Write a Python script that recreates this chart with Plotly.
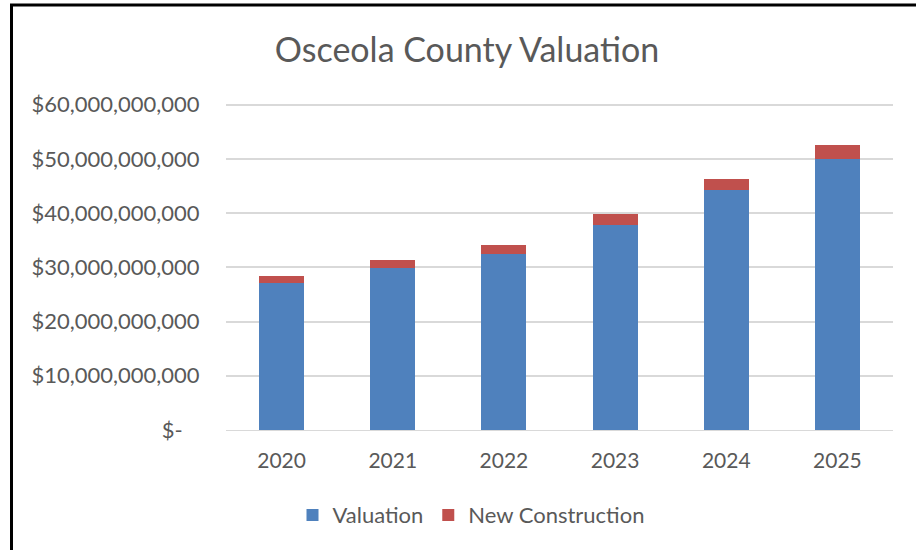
import plotly.graph_objects as go

years = ["2020", "2021", "2022", "2023", "2024", "2025"]
valuation = [27.1e9, 29.8e9, 32.4e9, 37.8e9, 44.2e9, 49.95e9]
new_construction = [1.35e9, 1.6e9, 1.65e9, 1.95e9, 2.15e9, 2.55e9]
tick_vals = [0, 10e9, 20e9, 30e9, 40e9, 50e9, 60e9]
tick_text = ["$-\u00a0\u00a0\u00a0", "$10,000,000,000", "$20,000,000,000", "$30,000,000,000",
             "$40,000,000,000", "$50,000,000,000", "$60,000,000,000"]

FONT = "Lato"
TXT = "#595959"

fig = go.Figure()
fig.add_trace(go.Bar(x=years, y=valuation, name="Valuation",
                     marker=dict(color="#4F81BD", line=dict(width=0))))
fig.add_trace(go.Bar(x=years, y=new_construction, name="New Construction",
                     marker=dict(color="#C0504D", line=dict(width=0))))

W, H = 916, 550
L, R, T, B = 226, 23, 103.4, 120
pw, ph = W - L - R, H - T - B

def px(x):
    return (x - L) / pw

def py(y):
    return (H - B - y) / ph

fig.update_layout(
    width=W, height=H,
    margin=dict(l=L, r=R, t=T, b=B, autoexpand=False),
    barmode="stack",
    bargap=0.595,
    paper_bgcolor="white",
    plot_bgcolor="white",
    font=dict(family=FONT, color=TXT, size=22),
    title=dict(text="Osceola County Valuation", x=467 / W, xanchor="center",
               y=1 - 50 / H, yanchor="middle",
               font=dict(family=FONT, size=34, color=TXT)),
    xaxis=dict(showgrid=False, showline=True, linecolor="#d9d9d9", linewidth=1,
               ticks="outside", ticklen=12, tickcolor="rgba(0,0,0,0)",
               tickangle=0, tickfont=dict(size=21, color=TXT)),
    yaxis=dict(range=[0, 60.3e9], tickvals=tick_vals, ticktext=tick_text,
               showgrid=True, gridcolor="#d9d9d9", gridwidth=2, zeroline=False,
               showline=False, ticks="outside", ticklen=21, tickcolor="rgba(0,0,0,0)",
               tickfont=dict(size=22, color=TXT)),
    legend=dict(orientation="h", x=px(471), xanchor="center",
                y=py(515), yanchor="middle",
                font=dict(size=22, color=TXT), traceorder="normal",
                itemwidth=30),
    showlegend=True,
)

fig.add_shape(type="rect", xref="paper", yref="paper",
              x0=px(11.5), x1=px(960), y0=py(600), y1=py(5.5),
              line=dict(color="black", width=3), fillcolor="rgba(0,0,0,0)", layer="above")

fig.write_html("out.html")
